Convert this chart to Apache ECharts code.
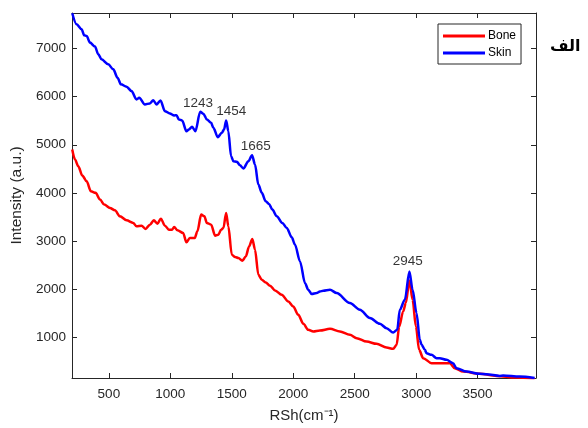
<!DOCTYPE html>
<html>
<head>
    <meta charset="utf-8">
    <title>Raman</title>
    <script src="https://cdn.jsdelivr.net/npm/echarts@6/dist/echarts.min.js"></script>
    <style>
        html, body { margin: 0; padding: 0; background: #fff; }
    </style>
</head>
<body>
<div id="main" style="width: 588px;height:428px;"></div>

<script>
    // Raman shift (cm-1) and intensity
    var boneX = [202, 224, 251, 284, 319, 354, 392, 428, 462, 509, 549, 590, 644, 698, 725, 766, 798, 834, 866, 895,
        923, 956, 988, 1015, 1031, 1058, 1104, 1131, 1159, 1199, 1220, 1251, 1277, 1297, 1332, 1364, 1391, 1413, 1432, 1454,
        1472, 1500, 1527, 1554, 1586, 1614, 1641, 1667, 1689, 1716, 1744, 1776, 1811, 1852, 1906, 1960, 2000, 2041, 2082, 2122,
        2163, 2217, 2299, 2380, 2461, 2516, 2597, 2678, 2759, 2813, 2841, 2862, 2894, 2916, 2945, 2971, 2998, 3024, 3057, 3125,
        3192, 3274, 3314, 3382, 3517, 3653, 3816, 3964];
    var boneY = [4901, 4693, 4554, 4360, 4241, 4033, 4000, 3860, 3756, 3687, 3637, 3512, 3429, 3375, 3304, 3318, 3250, 3339, 3429, 3360,
        3464, 3318, 3235, 3235, 3291, 3220, 3166, 2971, 3062, 3062, 3200, 3548, 3512, 3375, 3339, 3110, 3131, 3235, 3270, 3583,
        3304, 2714, 2666, 2646, 2589, 2679, 2887, 3041, 2818, 2298, 2194, 2137, 2069, 1971, 1881, 1742, 1637, 1464, 1277, 1152,
        1117, 1137, 1173, 1117, 1048, 979, 908, 860, 783, 756, 840, 1221, 1533, 1708, 2180, 1777, 1221, 735, 563, 458,
        458, 458, 354, 283, 236, 194, 158, 131];

    var skinX = [202, 237, 278, 300, 319, 346, 387, 414, 440, 495, 536, 570, 598, 644, 684, 725, 747, 793, 834, 861,
        887, 920, 956, 996, 1031, 1050, 1069, 1096, 1131, 1151, 1177, 1204, 1243, 1269, 1297, 1332, 1350, 1386, 1419, 1437,
        1454, 1472, 1494, 1513, 1541, 1567, 1594, 1635, 1665, 1689, 1716, 1744, 1776, 1803, 1830, 1866, 1911, 1947, 1988, 2014,
        2055, 2096, 2122, 2150, 2191, 2217, 2244, 2299, 2353, 2461, 2542, 2624, 2705, 2759, 2813, 2846, 2867, 2908, 2945, 2971,
        3003, 3030, 3044, 3071, 3084, 3125, 3166, 3192, 3247, 3300, 3328, 3409, 3517, 3572, 3680, 3707, 3842, 3964];
    var skinY = [7734, 7505, 7401, 7276, 7262, 7124, 7041, 6880, 6776, 6672, 6568, 6395, 6256, 6208, 6116, 5943, 5978, 5839, 5860, 5928,
        5839, 5922, 5699, 5651, 5610, 5616, 5526, 5506, 5283, 5318, 5374, 5283, 5687, 5645, 5526, 5458, 5353, 5158, 5249, 5318,
        5506, 5283, 4762, 4658, 4645, 4574, 4506, 4658, 4783, 4589, 4172, 4000, 3825, 3770, 3652, 3512, 3375, 3270, 3075, 2923,
        2575, 2120, 1985, 1896, 1917, 1950, 1964, 1985, 1917, 1708, 1569, 1396, 1277, 1187, 1096, 1152, 1569, 1777, 2366, 1985,
        1500, 944, 840, 735, 667, 631, 563, 563, 527, 458, 354, 283, 236, 229, 194, 200, 179, 152];

    // peak annotations (text centre in data units)
    var peakText = ['1243', '1454', '1665', '2945'];
    var peakX = [1226, 1496, 1695, 2932];
    var peakY = [5853, 5693, 4970, 2583];

    var xTicks = [500, 1000, 1500, 2000, 2500, 3000, 3500];
    var yTicks = [1000, 2000, 3000, 4000, 5000, 6000, 7000];

    function pairs(xs, ys) {
        var out = [];
        for (var i = 0; i < xs.length; i++) {
            out.push([xs[i], ys[i]]);
        }
        return out;
    }

    var peakData = [];
    for (var i = 0; i < peakText.length; i++) {
        peakData.push({value: [peakX[i], peakY[i]], name: peakText[i]});
    }

    var font = '"Liberation Sans", Arial, sans-serif';
    var ink = '#262626';
    var plain = function (v) { return String(v); };

    var myChart = echarts.init(document.getElementById('main'));
    var option = {
        animation: false,
        textStyle: {fontFamily: font},
        title: {
            text: 'الف',
            left: 545,
            top: 34,
            textStyle: {fontFamily: '"DejaVu Sans", sans-serif', fontSize: 16, fontWeight: 'bold', color: '#000'}
        },
        legend: {
            data: ['Bone', 'Skin'],
            orient: 'vertical',
            left: 438,
            top: 24,
            padding: [5, 5, 4, 5],
            itemGap: 3,
            itemWidth: 42,
            itemHeight: 3,
            icon: 'rect',
            borderColor: ink,
            borderWidth: 1,
            backgroundColor: '#fff',
            textStyle: {fontSize: 12, color: '#000', lineHeight: 14, padding: [0, 0, 0, -2]}
        },
        grid: {
            left: 72,
            right: 52,
            top: 13,
            bottom: 50
        },
        xAxis: [{
            type: 'value',
            position: 'bottom',
            min: 200,
            max: 3975,
            name: 'RSh(cm⁻¹)',
            nameLocation: 'middle',
            nameGap: 30,
            nameTextStyle: {fontSize: 15, color: ink},
            axisLine: {lineStyle: {color: ink}},
            axisTick: {inside: true, length: 5, customValues: xTicks, lineStyle: {color: ink}},
            axisLabel: {customValues: xTicks, formatter: plain, fontSize: 13.5, color: ink, margin: 9},
            splitLine: {show: false}
        }, {
            type: 'value',
            position: 'top',
            min: 200,
            max: 3975,
            axisLine: {lineStyle: {color: ink}},
            axisTick: {inside: true, length: 5, customValues: xTicks, lineStyle: {color: ink}},
            axisLabel: {show: false},
            splitLine: {show: false}
        }],
        yAxis: [{
            type: 'value',
            position: 'left',
            min: 150,
            max: 7740,
            name: 'Intensity (a.u.)',
            nameLocation: 'middle',
            nameGap: 38,
            nameTextStyle: {fontSize: 15.5, color: ink},
            axisLine: {show: true, lineStyle: {color: ink}},
            axisTick: {show: true, inside: true, length: 5, customValues: yTicks, lineStyle: {color: ink}},
            axisLabel: {customValues: yTicks, formatter: plain, fontSize: 13.5, color: ink, margin: 6},
            splitLine: {show: false}
        }, {
            type: 'value',
            position: 'right',
            min: 150,
            max: 7740,
            axisLine: {show: true, lineStyle: {color: ink}},
            axisTick: {show: true, inside: true, length: 5, customValues: yTicks, lineStyle: {color: ink}},
            axisLabel: {show: false},
            splitLine: {show: false}
        }],
        series: [{
            name: 'Bone',
            type: 'line',
            data: pairs(boneX, boneY),
            showSymbol: false,
            smooth: 0.3,
            smoothMonotone: 'x',
            color: '#ff0000',
            lineStyle: {width: 2.5, color: '#ff0000'}
        }, {
            name: 'Skin',
            type: 'line',
            data: pairs(skinX, skinY),
            showSymbol: false,
            smooth: 0.3,
            smoothMonotone: 'x',
            color: '#0000ff',
            lineStyle: {width: 2.5, color: '#0000ff'}
        }, {
            name: 'peaks',
            type: 'scatter',
            data: peakData,
            symbolSize: 1,
            silent: true,
            itemStyle: {color: 'transparent'},
            label: {
                show: true,
                position: 'inside',
                formatter: '{b}',
                fontSize: 13.5,
                color: '#000',
                textBorderWidth: 0
            },
            z: 5
        }]
    };
    myChart.setOption(option);
</script>
</body>
</html>
